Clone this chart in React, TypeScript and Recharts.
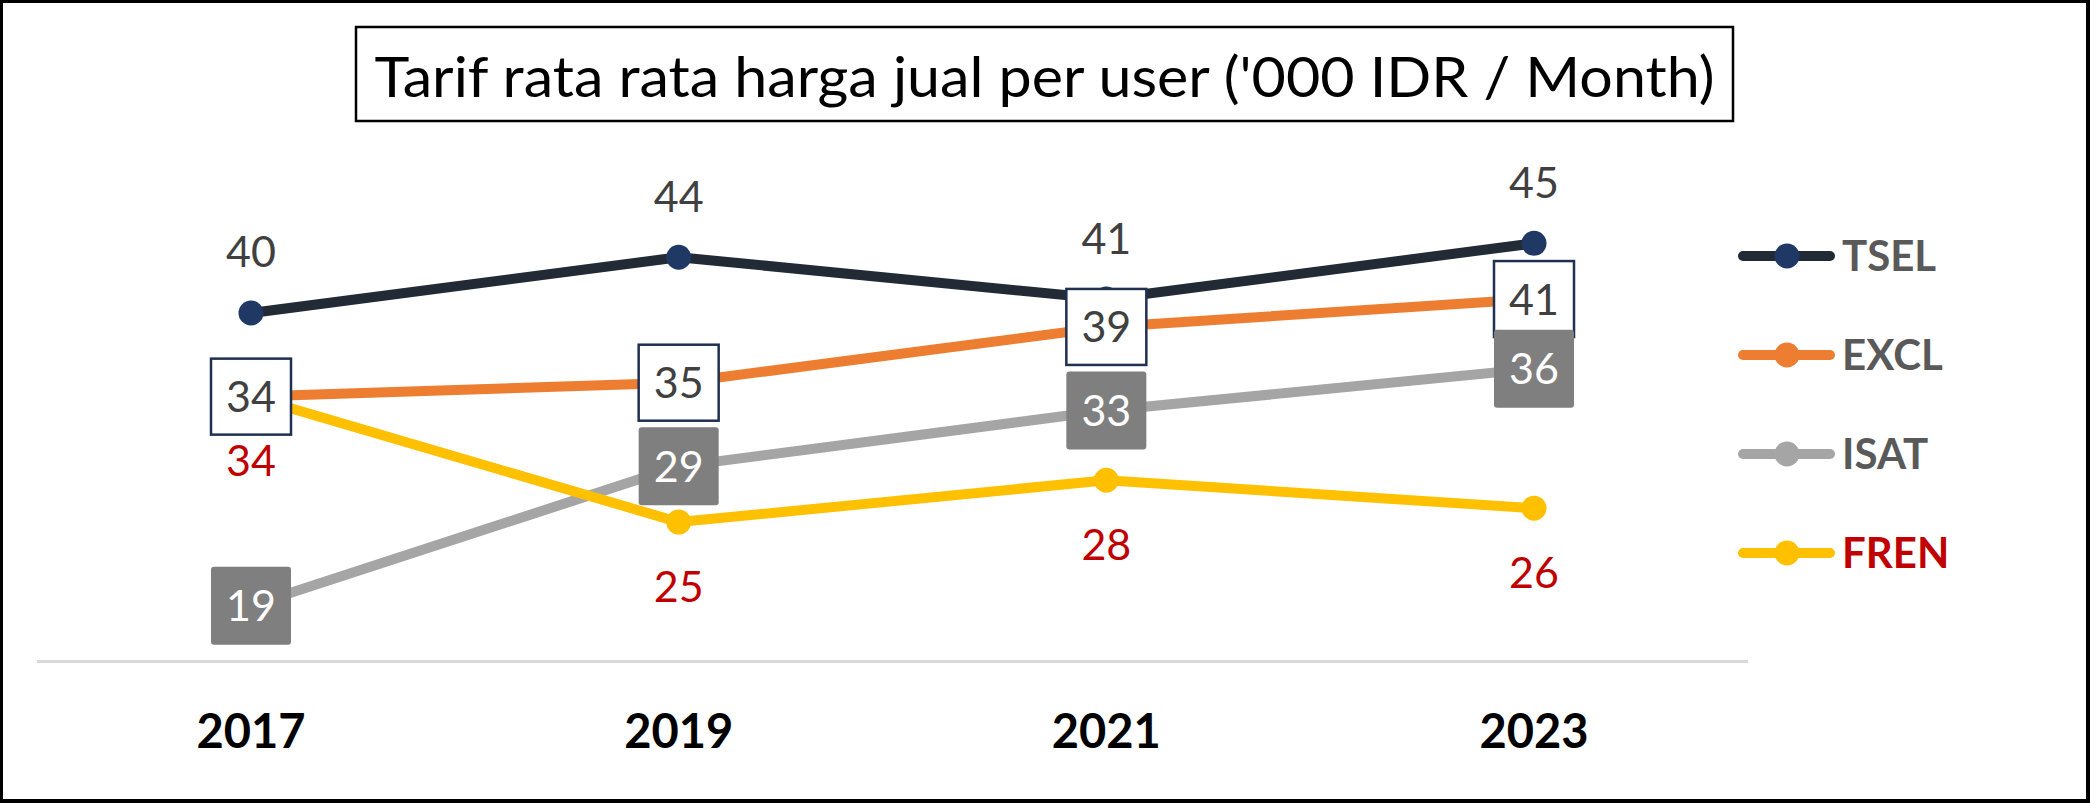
import { LabelList, Legend, Line, LineChart, XAxis, YAxis } from 'recharts'

const years = ['2017', '2019', '2021', '2023']
const tsel = [40, 44, 41, 45]
const excl = [34, 35, 39, 41]
const isat = [19, 29, 33, 36]
const fren = [34, 25, 28, 26]

const title = "Tarif rata rata harga jual per user ('000 IDR / Month)"

const series = [
  { key: 'TSEL', line: '#222a35', dot: '#1f3864', text: '#595959' },
  { key: 'EXCL', line: '#ed7d31', dot: '#ed7d31', text: '#595959' },
  { key: 'ISAT', line: '#a5a5a5', dot: '#a5a5a5', text: '#595959' },
  { key: 'FREN', line: '#ffc000', dot: '#ffc000', text: '#c00000' }
]

const data = years.map((year, i) => ({
  year,
  TSEL: tsel[i],
  EXCL: excl[i],
  ISAT: isat[i],
  FREN: fren[i]
}))

const FONT = 'Lato, "Noto Sans", sans-serif'
const LABEL_SIZE = 43

const aboveLabel = (props: any) => (
  <text
    x={props.x}
    y={props.y - 61 + LABEL_SIZE * 0.36}
    textAnchor="middle"
    fontSize={LABEL_SIZE}
    fontFamily={FONT}
    fill="#404040"
  >
    {props.value}
  </text>
)

const belowLabel = (props: any) => (
  <text
    x={props.x}
    y={props.y + 64 + LABEL_SIZE * 0.36}
    textAnchor="middle"
    fontSize={LABEL_SIZE}
    fontFamily={FONT}
    fill="#c00000"
  >
    {props.value}
  </text>
)

// boxed data label, centred on the point
const boxLabel = (fill: string, stroke: string, color: string, h: number) => (props: any) => (
  <g>
    <rect
      x={props.x - 40}
      y={props.y - h / 2}
      width={80}
      height={h}
      rx={stroke === 'none' ? 3 : 0}
      fill={fill}
      stroke={stroke}
      strokeWidth={2.5}
    />
    <text
      x={props.x}
      y={props.y + LABEL_SIZE * 0.36}
      textAnchor="middle"
      fontSize={LABEL_SIZE}
      fontFamily={FONT}
      fill={color}
    >
      {props.value}
    </text>
  </g>
)

const YearTick = (props: any) => (
  <text
    x={props.x}
    y={props.y + 69.5 + 47 * 0.36}
    textAnchor="middle"
    fontSize={47}
    fontWeight={700}
    fontFamily={FONT}
    fill="#000000"
  >
    {props.payload.value}
  </text>
)

const renderLegend = () => (
  <svg width={330} height={400}>
    {series.map((s, i) => {
      const y = 56 + i * 99
      return (
        <g key={s.key}>
          <line x1={13} x2={100} y1={y} y2={y} stroke={s.line} strokeWidth={10} strokeLinecap="round" />
          <circle cx={57} cy={y} r={12.5} fill={s.dot} />
          <text
            x={112}
            y={y + 42 * 0.36}
            fontSize={42}
            fontWeight={700}
            fontFamily={FONT}
            fill={s.text}
          >
            {s.key}
          </text>
        </g>
      )
    })}
  </svg>
)

export default function App() {
  return (
    <div style={{ position: 'absolute', left: 0, top: 0, width: 2090, height: 803, background: '#ffffff' }}>
      <LineChart
        width={2090}
        height={803}
        data={data}
        margin={{ top: 173.6, right: 342, bottom: 51.5, left: 37 }}
      >
        <XAxis
          dataKey="year"
          axisLine={{ stroke: '#d9d9d9', strokeWidth: 3 }}
          tickLine={false}
          tickSize={0}
          tickMargin={0}
          height={90}
          interval={0}
          padding={{ left: 214, right: 214 }}
          tick={<YearTick />}
        />
        <YAxis hide domain={[15, 50]} />
        <Legend
          layout="vertical"
          align="center"
          verticalAlign="middle"
          content={renderLegend}
          wrapperStyle={{ left: 1730, top: 200, width: 330, height: 400 }}
        />
        {series.map(s => (
          <Line
            key={s.key}
            type="linear"
            dataKey={s.key}
            stroke={s.line}
            strokeWidth={10}
            strokeLinecap="round"
            strokeLinejoin="round"
            dot={{ r: 12.5, fill: s.dot, stroke: s.dot, strokeWidth: 0 }}
            activeDot={false}
            isAnimationActive={false}
          />
        ))}
        {/* labels go on top of every line */}
        <Line dataKey="TSEL" stroke="none" dot={false} activeDot={false} legendType="none" isAnimationActive={false}>
          <LabelList dataKey="TSEL" content={aboveLabel} />
        </Line>
        <Line dataKey="EXCL" stroke="none" dot={false} activeDot={false} legendType="none" isAnimationActive={false}>
          <LabelList dataKey="EXCL" content={boxLabel('#ffffff', '#1f3050', '#404040', 76)} />
        </Line>
        <Line dataKey="ISAT" stroke="none" dot={false} activeDot={false} legendType="none" isAnimationActive={false}>
          <LabelList dataKey="ISAT" content={boxLabel('#7f7f7f', 'none', '#ffffff', 78)} />
        </Line>
        <Line dataKey="FREN" stroke="none" dot={false} activeDot={false} legendType="none" isAnimationActive={false}>
          <LabelList dataKey="FREN" content={belowLabel} />
        </Line>
      </LineChart>
      <svg
        width={2090}
        height={140}
        style={{ position: 'absolute', left: 0, top: 0, pointerEvents: 'none' }}
      >
        <rect x={356} y={27} width={1377} height={94} fill="#ffffff" stroke="#000000" strokeWidth={2.5} />
        <text
          x={1044.5}
          y={97}
          textAnchor="middle"
          fontSize={57}
          fontFamily={FONT}
          fill="#000000"
          textLength={1340}
          lengthAdjust="spacingAndGlyphs"
        >
          {title}
        </text>
      </svg>
      <div
        style={{
          position: 'absolute',
          inset: 0,
          borderStyle: 'solid',
          borderColor: '#000000',
          borderWidth: '3px 4px 4px 3px',
          boxSizing: 'border-box',
          pointerEvents: 'none'
        }}
      />
    </div>
  )
}
